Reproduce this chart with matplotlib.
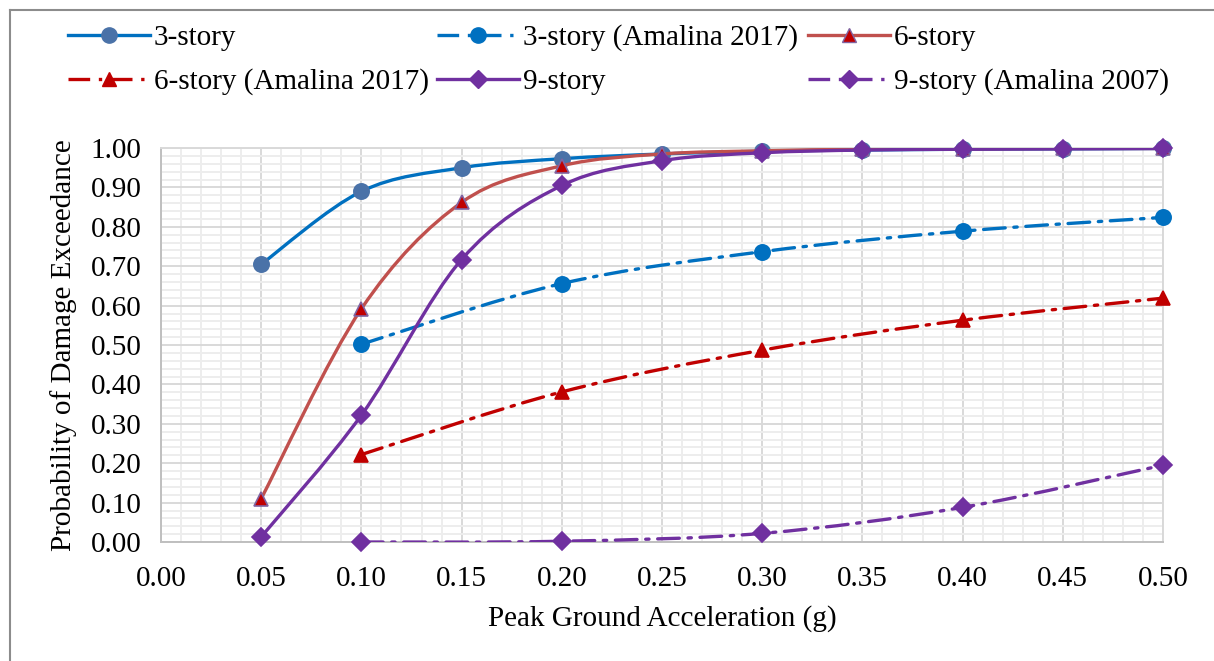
import matplotlib
matplotlib.use("Agg")
import matplotlib.pyplot as plt
from matplotlib.path import Path
from matplotlib.patches import PathPatch
from matplotlib.lines import Line2D
from matplotlib.ticker import MultipleLocator, FormatStrFormatter

plt.rcParams['font.family'] = ['Liberation Serif', 'DejaVu Serif']

# ---- data ----
pga_full = [0.05, 0.10, 0.15, 0.20, 0.25, 0.30, 0.35, 0.40, 0.45, 0.50]
pga_ref = [0.10, 0.20, 0.30, 0.40, 0.50]

story3 = [0.705, 0.890, 0.950, 0.973, 0.985, 0.992, 0.995, 0.997, 0.998, 0.999]
story6 = [0.110, 0.592, 0.862, 0.955, 0.985, 0.993, 0.997, 0.998, 0.999, 0.999]
story9 = [0.013, 0.322, 0.717, 0.905, 0.968, 0.988, 0.995, 0.997, 0.998, 0.999]

story3_amalina = [0.502, 0.656, 0.737, 0.789, 0.824]
story6_amalina = [0.222, 0.381, 0.487, 0.563, 0.619]
story9_amalina = [0.000, 0.002, 0.022, 0.088, 0.195]

labels = ["3-story", "3-story (Amalina 2017)", "6-story",
          "6-story (Amalina 2017)", "9-story", "9-story (Amalina 2007)"]

dashdot = (0, (6.5, 2.6, 1, 2.6))

# (x, y, label, line colour, marker, face, edge, linestyle)
series = [
    (pga_full, story3, labels[0], '#0070C0', 'o', '#4A72A8', '#4A72A8', '-'),
    (pga_ref, story3_amalina, labels[1], '#0070C0', 'o', '#0070C0', '#0070C0', dashdot),
    (pga_full, story6, labels[2], '#C0504D', '^', '#C00000', '#8064A2', '-'),
    (pga_ref, story6_amalina, labels[3], '#C00000', '^', '#C00000', '#C00000', dashdot),
    (pga_full, story9, labels[4], '#7030A0', 'D', '#7030A0', '#7030A0', '-'),
    (pga_ref, story9_amalina, labels[5], '#7030A0', 'D', '#7030A0', '#7030A0', dashdot),
]
msizes = {'o': 11, '^': 10.5, 'D': 9}


def smooth_path(xs, ys):
    # Bezier segments like Excel's smoothed line
    pts = list(zip(xs, ys))
    verts = [pts[0]]
    codes = [Path.MOVETO]
    n = len(pts)
    for i in range(n - 1):
        p0 = pts[i - 1] if i > 0 else pts[i]
        p1 = pts[i]
        p2 = pts[i + 1]
        p3 = pts[i + 2] if i + 2 < n else pts[i + 1]
        c1 = (p1[0] + (p2[0] - p0[0]) / 6, p1[1] + (p2[1] - p0[1]) / 6)
        c2 = (p2[0] - (p3[0] - p1[0]) / 6, p2[1] - (p3[1] - p1[1]) / 6)
        verts += [c1, c2, p2]
        codes += [Path.CURVE4] * 3
    return Path(verts, codes)


fig = plt.figure(figsize=(12.14, 6.61), dpi=100)
ax = fig.add_axes([0.1326, 0.180, 0.8254, 0.596])

lw = 2.4
handles = []
for k, (xs, ys, lab, col, mk, fc, ec, ls) in enumerate(series):
    patch = PathPatch(smooth_path(xs, ys), facecolor='none', edgecolor=col,
                      lw=lw, linestyle=ls, zorder=3 + k, capstyle='round')
    ax.add_patch(patch)
    ax.plot(xs, ys, linestyle='none', marker=mk, markersize=msizes[mk],
            markerfacecolor=fc, markeredgecolor=ec, markeredgewidth=1.2,
            zorder=3 + k, clip_on=False)
    handles.append(Line2D([], [], color=col, lw=lw, linestyle=ls, marker=mk,
                          markersize=msizes[mk],
                          markerfacecolor=fc, markeredgecolor=ec))

ax.set_xlim(0, 0.5)
ax.set_ylim(0, 1.0)
ax.xaxis.set_major_locator(MultipleLocator(0.05))
ax.xaxis.set_minor_locator(MultipleLocator(0.01))
ax.yaxis.set_major_locator(MultipleLocator(0.1))
ax.yaxis.set_minor_locator(MultipleLocator(0.02))
ax.xaxis.set_major_formatter(FormatStrFormatter('%.2f'))
ax.yaxis.set_major_formatter(FormatStrFormatter('%.2f'))
ax.grid(which='minor', color='#EDEDED', lw=1.4, zorder=0)
ax.grid(which='major', color='#D9D9D9', lw=1.4, zorder=1)
ax.set_axisbelow(True)
ax.tick_params(which='both', length=0, labelsize=21)
ax.tick_params(axis='x', pad=17)
ax.tick_params(axis='y', pad=14)
for s in ax.spines.values():
    s.set_color('#D9D9D9')
    s.set_linewidth(1.4)
ax.spines['left'].set_color('#BFBFBF')
ax.spines['bottom'].set_color('#BFBFBF')

ax.set_xlabel("Peak Ground Acceleration (g)", fontsize=21, labelpad=10)
ax.set_ylabel("Probability of Damage Exceedance", fontsize=21, labelpad=10)

# legend entries laid out in Excel's grid
col_x = [68, 437, 808]
row_y = [38, 82]
for k, h in enumerate(handles):
    r, c = divmod(k, 3)
    fig.legend([h], [labels[k]], loc='center left', frameon=False, fontsize=21,
               bbox_to_anchor=(col_x[c] / 1214, 1 - row_y[r] / 661),
               borderpad=0, borderaxespad=0, handlelength=2.8, handletextpad=0.15)

# outer chart border
fig.add_artist(Line2D([10 / 1214, 10 / 1214], [0, 1 - 10 / 661], color='#8C8C8C', lw=1.5))
fig.add_artist(Line2D([10 / 1214, 1], [1 - 10 / 661, 1 - 10 / 661], color='#8C8C8C', lw=1.5))

fig.savefig("out.png", dpi=100)
